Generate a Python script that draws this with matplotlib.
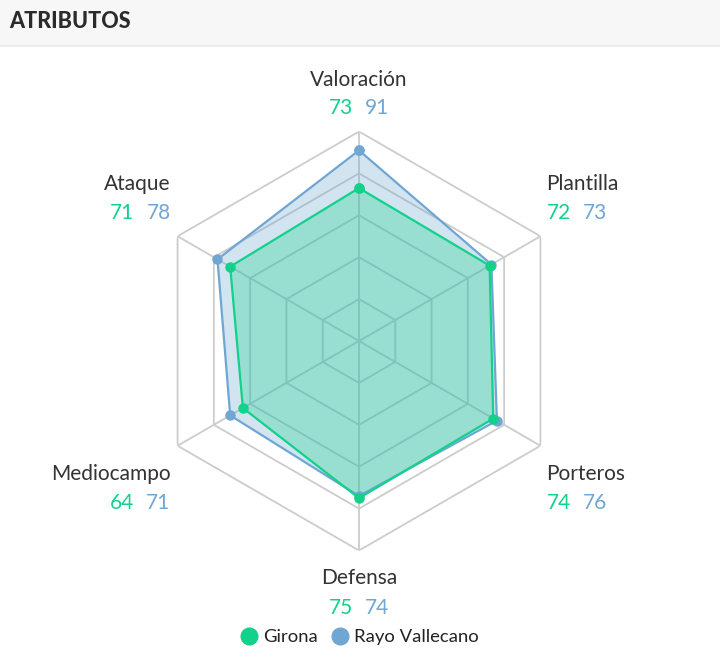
import numpy as np
import matplotlib
matplotlib.use("Agg")
import matplotlib.pyplot as plt
from matplotlib.lines import Line2D
from matplotlib.patches import Rectangle

plt.rcParams['font.family'] = ['Lato', 'DejaVu Sans']

# ---- data ----
categories = ['Valoración', 'Plantilla', 'Porteros', 'Defensa', 'Mediocampo', 'Ataque']
girona = [73, 72, 74, 75, 64, 71]
rayo = [91, 73, 76, 74, 71, 78]
series_names = ['Girona', 'Rayo Vallecano']
grid_levels = [20, 40, 60, 80, 100]
title = 'ATRIBUTOS'

GREEN = '#12d18a'
BLUE = '#6fa6d3'
GRID = '#cccccc'
TXT = '#333333'

W, H = 720, 665
fig = plt.figure(figsize=(W / 100, H / 100), dpi=100)
fig.patch.set_facecolor('white')

# header band
fig.patches.append(Rectangle((0, 1 - 45 / H), 1, 45 / H, transform=fig.transFigure,
                             facecolor='#f7f7f7', edgecolor='none', zorder=0))
fig.add_artist(Line2D([0, 1], [1 - 46 / H, 1 - 46 / H], transform=fig.transFigure,
                      color='#e8e8e8', lw=1.2))
fig.text(9 / W, 1 - 22 / H, title, fontsize=15.5, fontweight='black', color='#2b2b2b',
         ha='left', va='center')

# radar axes
cx, cy, R = 359, 341, 209.5
ax = fig.add_axes([(cx - R) / W, (H - cy - R) / H, 2 * R / W, 2 * R / H], projection='polar')
ax.set_theta_zero_location('N')
ax.set_theta_direction(-1)
ax.set_ylim(0, 100)
ax.grid(False)
ax.spines['polar'].set_visible(False)
ax.set_xticks([])
ax.set_yticks([])
ax.patch.set_alpha(0)

n = len(categories)
theta = np.linspace(0, 2 * np.pi, n, endpoint=False)
theta_c = np.append(theta, theta[0])

for lv in grid_levels:
    ax.plot(theta_c, [lv] * (n + 1), color=GRID, lw=1.3, zorder=1)
for t in theta:
    ax.plot([t, t], [0, grid_levels[-1]], color=GRID, lw=1.3, zorder=1)

def closed(v):
    return np.append(v, v[0])

ax.fill(theta_c, closed(rayo), color=BLUE, alpha=0.3, lw=0, zorder=2)
ax.fill(theta_c, closed(girona), color=GREEN, alpha=0.3, lw=0, zorder=3)
ax.plot(theta_c, closed(rayo), color=BLUE, lw=1.6, marker='o', markersize=6.5, zorder=4)
ax.plot(theta_c, closed(girona), color=GREEN, lw=1.6, marker='o', markersize=6.5, zorder=5)

# labels
PX = 0.72  # px -> pt at 100 dpi
FS = 15
for i, (cat, t) in enumerate(zip(categories, theta)):
    s = np.sin(t)
    top = np.cos(t) > 0
    if abs(s) < 1e-6:
        ha, dx = 'center', 0
    elif s > 0:
        ha, dx = 'left', 6
    else:
        ha, dx = 'right', -7
    ly = 52 if top else -28
    ny = 23 if top else -57
    ax.annotate(cat, xy=(t, 100), xytext=(dx * PX, ly * PX), textcoords='offset points',
                ha=ha, va='center', fontsize=FS, color=TXT, annotation_clip=False)
    g, b = str(girona[i]), str(rayo[i])
    if ha == 'center':
        ax.annotate(g, xy=(t, 100), xytext=(-6 * PX, ny * PX), textcoords='offset points',
                    ha='right', va='center', fontsize=FS, color=GREEN, annotation_clip=False)
        ax.annotate(b, xy=(t, 100), xytext=(6 * PX, ny * PX), textcoords='offset points',
                    ha='left', va='center', fontsize=FS, color=BLUE, annotation_clip=False)
    elif ha == 'left':
        gt = ax.annotate(g, xy=(t, 100), xytext=(dx * PX, ny * PX), textcoords='offset points',
                         ha='left', va='center', fontsize=FS, color=GREEN, annotation_clip=False)
        ax.annotate(b, xy=(1, 0.5), xycoords=gt, xytext=(12 * PX, 0), textcoords='offset points',
                    ha='left', va='center', fontsize=FS, color=BLUE, annotation_clip=False)
    else:
        bt = ax.annotate(b, xy=(t, 100), xytext=(dx * PX, ny * PX), textcoords='offset points',
                         ha='right', va='center', fontsize=FS, color=BLUE, annotation_clip=False)
        ax.annotate(g, xy=(0, 0.5), xycoords=bt, xytext=(-12 * PX, 0), textcoords='offset points',
                    ha='right', va='center', fontsize=FS, color=GREEN, annotation_clip=False)

handles = [Line2D([], [], ls='none', marker='o', markersize=12, color=c) for c in (GREEN, BLUE)]
fig.legend(handles, series_names, loc='center', bbox_to_anchor=(359 / W, 1 - 637 / H), ncol=2,
           frameon=False, fontsize=13.3, handletextpad=0.25, columnspacing=0.7, handlelength=1.0,
           labelcolor='#222222')

fig.savefig('out.png', dpi=100, facecolor='white')
